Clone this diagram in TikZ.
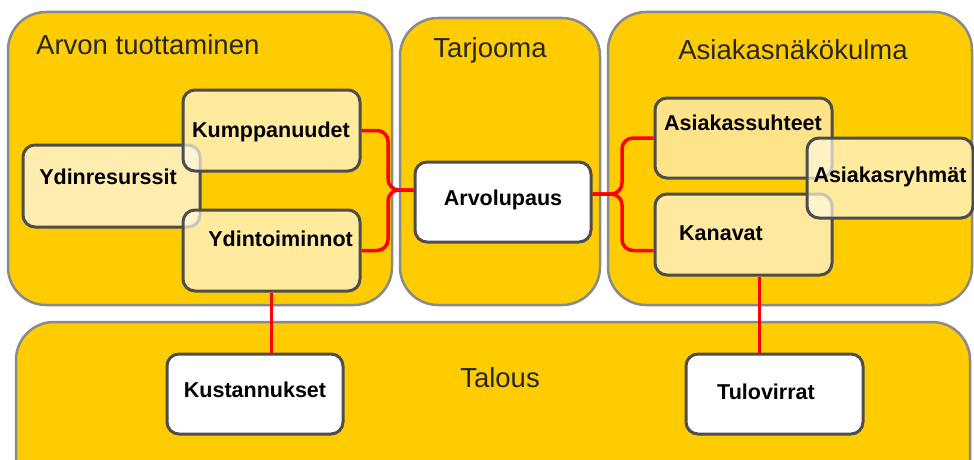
\documentclass[tikz,border=0pt]{standalone}
\usepackage{fontspec}
\setmainfont{Liberation Sans}
\usetikzlibrary{fit,calc}
\definecolor{gold}{HTML}{FFCC00}
\definecolor{panelgray}{HTML}{8A8A8A}
\definecolor{boxgray}{HTML}{4D4D4D}
\definecolor{lightbox}{HTML}{FFEDB0}
\definecolor{veil}{HTML}{FFF8E0}
\definecolor{midbox}{HTML}{FFE388}
\definecolor{kanbox}{HTML}{FFE9A0}
\tikzset{
  panel/.style={draw=panelgray, line width=2.5pt, fill=gold, rounded corners=38pt, inner sep=0pt},
  card/.style={draw=boxgray, line width=3pt, rounded corners=12pt, inner sep=0pt},
  lbl/.style={font=\fontsize{21.5}{25}\selectfont\bfseries, inner sep=0pt, text=black},
  ttl/.style={font=\fontsize{27.5}{31}\selectfont, inner sep=0pt, text=black!85},
  redline/.style={draw=red, line width=3.5pt, rounded corners=11pt}
}
\begin{document}
\begin{tikzpicture}[x=1pt,y=-1pt]
\clip (0,0) rectangle (974,460);
\fill[white] (0,0) rectangle (974,460);
% panels
\node[panel, fit={(8,12) (392,305)}] (p1) {};
\node[panel, fit={(400,18) (600,305)}] (p2) {};
\node[panel, fit={(608,12) (972,305)}] (p3) {};
\node[panel, fit={(16,322) (970,500)}] (p4) {};
\node[ttl, anchor=west] (t1) at (36,45) {Arvon tuottaminen};
\node[ttl] (t2) at (490,50) {Tarjooma};
\node[ttl] (t3) at (793,50) {Asiakasnäkökulma};
\node[ttl] (t4) at (500,378) {Talous};
% left group
\node[card, fill=lightbox, fit={(23,145) (200,227)}] (yres) {};
\node[card, fill=veil, fill opacity=0.7, fit={(183,90) (360,171)}] (kump) {};
\node[card, fill=veil, fill opacity=0.7, fit={(183,210) (360,291)}] (ytoi) {};
\node[lbl] (tyres) at (108,177) {Ydinresurssit};
\node[lbl] (tkump) at (271,132) {Kumppanuudet};
\node[lbl, anchor=east] (tytoi) at (353,239) {Ydintoiminnot};
% middle
\node[card, fill=white, fit={(415,162) (591,242)}] (arvo) {};
\node[lbl] (tarvo) at (503,200) {Arvolupaus};
% right group
\node[card, fill=midbox, fit={(655,98) (832,178)}] (asu) {};
\node[card, fill=kanbox, fit={(655,194) (832,275)}] (kan) {};
\node[card, fill=veil, fill opacity=0.7, fit={(807,138) (973,218)}] (ary) {};
\node[lbl] (tasu) at (743,123) {Asiakassuhteet};
\node[lbl] (tary) at (890,177) {Asiakasryhmät};
\node[lbl] (tkan) at (721,233) {Kanavat};
% bottom
\node[card, fill=white, fit={(167,354) (343,434)}] (kust) {};
\node[card, fill=white, fit={(686,354) (863,434)}] (tulo) {};
\node[lbl] (tkust) at (255,390) {Kustannukset};
\node[lbl] (ttulo) at (766,392) {Tulovirrat};
% connectors
\coordinate (ltip) at ($(arvo.west)+(0,-12)$);
\coordinate (rtip) at ($(arvo.east)+(0,-8)$);
\coordinate (kanin) at ($(kan.west)+(0,16)$);
\draw[redline] (kump.east) -- (388,130.5) -- (388,190) -- (ltip);
\draw[redline] (ytoi.east) -- (388,250.5) -- (388,190) -- (ltip);
\draw[redline] (rtip) -- (622,194) -- (622,138) -- (asu.west);
\draw[redline] (rtip) -- (622,194) -- (622,250.5) -- (kanin);
\draw[redline, rounded corners=0pt] (ytoi.south) -- (ytoi.south |- kust.north);
\coordinate (kanout) at ($(kan.south)+(16,0)$);
\draw[redline, rounded corners=0pt] (kanout) -- (kanout |- tulo.north);
\end{tikzpicture}
\end{document}
